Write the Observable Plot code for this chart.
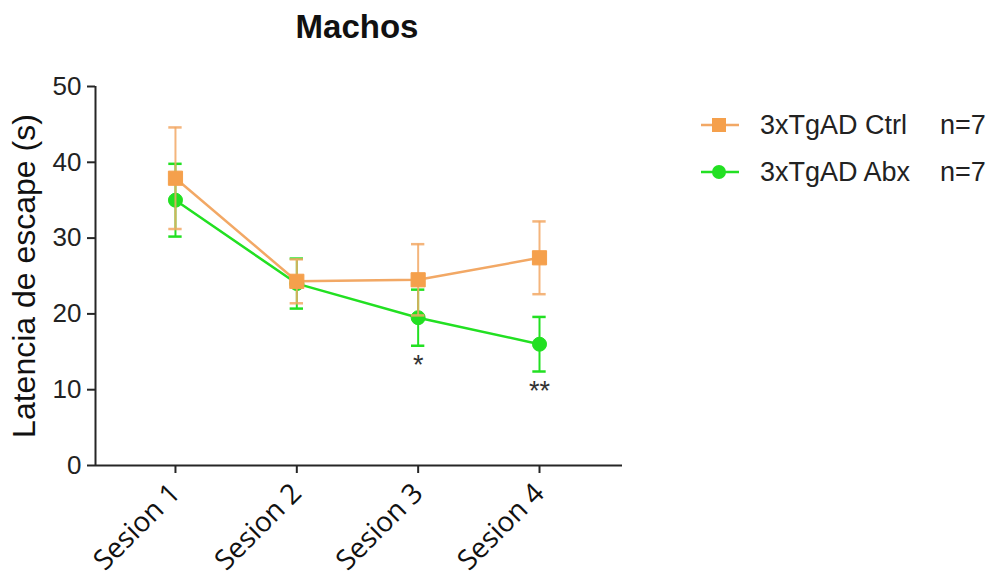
<!DOCTYPE html>
<html>
<head>
<meta charset="utf-8">
<script src="https://cdn.jsdelivr.net/npm/d3@7"></script>
<script src="https://cdn.jsdelivr.net/npm/@observablehq/plot@0.6"></script>
<style>
  html, body { margin: 0; padding: 0; background: #fff; }
  #wrap { position: relative; width: 1001px; height: 584px; overflow: hidden; }
  .leg { position: absolute; left: 700px; font-family: "Liberation Sans", Arial, sans-serif; font-size: 27px; color: #222; display: flex; align-items: center; white-space: nowrap; }
  .leg svg { display: block; }
  .leg .name { position: absolute; left: 60px; }
  .leg .n { position: absolute; left: 240px; }
</style>
</head>
<body>
<div id="wrap"></div>
<script>
const sessions = ["Sesion 1", "Sesion 2", "Sesion 3", "Sesion 4"];
const sessionIndex = [1, 2, 3, 4];
const ctrlMean = [37.9, 24.3, 24.5, 27.4];
const ctrlErr = [6.7, 2.9, 4.7, 4.8];
const abxMean = [35.0, 24.0, 19.5, 16.0];
const abxErr = [4.8, 3.3, 3.7, 3.6];
const significance = ["", "", "*", "**"];
const seriesNames = ["3xTgAD Ctrl", "3xTgAD Abx"];
const seriesN = ["n=7", "n=7"];
const yTicks = [0, 10, 20, 30, 40, 50];

const ORANGE = "#F5A04C";
const ORANGE_LINE = "#F2A865";
const GREEN = "#22E022";
const AXIS = "#262626";

const ctrl = sessionIndex.map((i, k) => ({i, mean: ctrlMean[k], lo: ctrlMean[k] - ctrlErr[k], hi: ctrlMean[k] + ctrlErr[k]}));
const abx = sessionIndex.map((i, k) => ({i, mean: abxMean[k], lo: abxMean[k] - abxErr[k], hi: abxMean[k] + abxErr[k], sig: significance[k]}));

const capHalf = 0.055;
const xDomain = [0.341, 4.684];

function errorMarks(data, color, opacity) {
  return [
    Plot.ruleX(data, {x: "i", y1: "lo", y2: "hi", stroke: color, strokeWidth: 2, strokeOpacity: opacity}),
    Plot.ruleY(data, {y: "hi", x1: d => d.i - capHalf, x2: d => d.i + capHalf, stroke: color, strokeWidth: 2.5, strokeOpacity: opacity}),
    Plot.ruleY(data, {y: "lo", x1: d => d.i - capHalf, x2: d => d.i + capHalf, stroke: color, strokeWidth: 2.5, strokeOpacity: opacity})
  ];
}

const chart = Plot.plot({
  width: 1001,
  height: 584,
  marginLeft: 95,
  marginRight: 379,
  marginTop: 86,
  marginBottom: 119,
  style: {fontFamily: "'Liberation Sans', Arial, sans-serif", background: "white", overflow: "visible"},
  x: {type: "linear", domain: xDomain, axis: null},
  y: {domain: [0, 50], axis: null},
  marks: [
    // axes lines
    Plot.ruleX([xDomain[0]], {y1: 0, y2: 50, stroke: AXIS, strokeWidth: 2}),
    Plot.ruleY([0], {x1: xDomain[0], x2: xDomain[1], stroke: AXIS, strokeWidth: 2}),
    Plot.axisY(yTicks, {anchor: "left", tickSize: 8, tickPadding: 6, fontSize: 26, stroke: AXIS, strokeWidth: 2, fill: "#222", label: null}),
    Plot.axisX(sessionIndex, {anchor: "bottom", tickSize: 8, tickPadding: 15, tickRotate: -45, fontSize: 28, fontFamily: "'Open Sans', sans-serif", tickFormat: i => sessions[i - 1], stroke: AXIS, strokeWidth: 2, fill: "#111", label: null}),
    // green series
    Plot.line(abx, {x: "i", y: "mean", stroke: GREEN, strokeWidth: 2.5}),
    ...errorMarks(abx, GREEN, 1),
    Plot.dot(abx, {x: "i", y: "mean", r: 7, fill: GREEN, stroke: GREEN, strokeWidth: 1}),
    // orange series
    Plot.line(ctrl, {x: "i", y: "mean", stroke: ORANGE_LINE, strokeWidth: 2.5}),
    ...errorMarks(ctrl, ORANGE_LINE, 0.85),
    Plot.dot(ctrl, {x: "i", y: "mean", symbol: "square", r: 8, fill: ORANGE, stroke: ORANGE, strokeWidth: 1}),
    // significance
    Plot.text(abx.filter(d => d.sig), {x: "i", y: "lo", text: "sig", dy: 20, fontSize: 27, fill: "#333", lineAnchor: "middle"}),
    // title
    Plot.text(["Machos"], {frameAnchor: "top", lineAnchor: "middle", textAnchor: "middle", dy: -59.5, dx: -2, fontSize: 33, fontWeight: "bold", fill: "#111"}),
    // y label
    Plot.text(["Latencia de escape (s)"], {frameAnchor: "left", textAnchor: "middle", lineAnchor: "middle", rotate: -90, dx: -71, fontSize: 32, fill: "#111"})
  ]
});

const wrap = document.getElementById("wrap");
wrap.appendChild(chart);

// legend
const legendDefs = [
  {name: seriesNames[0], n: seriesN[0], color: ORANGE, line: ORANGE_LINE, shape: "square", top: 125},
  {name: seriesNames[1], n: seriesN[1], color: GREEN, line: GREEN, shape: "circle", top: 172}
];
for (const d of legendDefs) {
  const row = document.createElement("div");
  row.className = "leg";
  row.style.top = (d.top - 20) + "px";
  row.style.height = "40px";
  const marker = d.shape === "square"
    ? `<rect x="12" y="13" width="14" height="14" fill="${d.color}"/>`
    : `<circle cx="19" cy="20" r="7" fill="${d.color}"/>`;
  row.innerHTML = `<svg width="40" height="40"><line x1="1" x2="39" y1="20" y2="20" stroke="${d.line}" stroke-width="2.5"/>${marker}</svg><span class="name">${d.name}</span><span class="n">${d.n}</span>`;
  wrap.appendChild(row);
}
</script>
</body>
</html>
